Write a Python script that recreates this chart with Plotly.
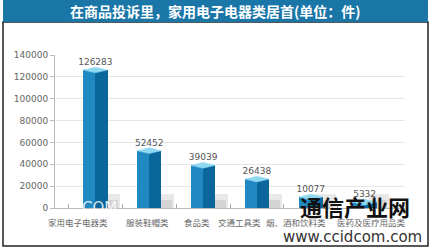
import plotly.graph_objects as go

categories = ["家用电子电器类", "服装鞋帽类", "食品类", "交通工具类", "烟、酒和饮料类", "医药及医疗用品类"]
values = [126283, 52452, 39039, 26438, 10077, 5332]
y_ticks = [0, 20000, 40000, 60000, 80000, 100000, 120000, 140000]
title_text = "在商品投诉里，家用电子电器类居首(单位：件)"

# horizontal nudges of the category labels, as in the reference
label_nudge = [-0.33, -0.04, -0.11, -0.32, -0.27, 0.13]

W, H = 430, 250
ML, MR, MT, MB = 55, 25, 55, 42
PW, PH = W - ML - MR, H - MT - MB

def px(x):
    return (x - ML) / PW

def py(y):
    return (H - MB - y) / PH

FONT = "Noto Sans CJK SC"
xs = list(range(len(categories)))
half = 0.225
cap = 2600

fig = go.Figure()

# shadows
fig.add_trace(go.Bar(x=xs, y=[13000] * len(xs), width=0.38, offset=0.08,
                     marker=dict(color="rgba(180,180,180,0.30)", line=dict(width=0)),
                     hoverinfo="skip", showlegend=False))
fig.add_trace(go.Bar(x=xs, y=[7000] * len(xs), width=0.30, offset=0.12,
                     marker=dict(color="rgba(150,150,150,0.25)", line=dict(width=0)),
                     hoverinfo="skip", showlegend=False))
# left face
fig.add_trace(go.Bar(x=xs, y=values, width=half, offset=-half,
                     marker=dict(color="#2189c2", line=dict(width=0)),
                     showlegend=False))
# right face
fig.add_trace(go.Bar(x=xs, y=values, width=half, offset=0,
                     marker=dict(color="#0b679b", line=dict(width=0)),
                     showlegend=False))
# caps
for x, v in zip(xs, values):
    fig.add_trace(go.Scatter(
        x=[x - half, x, x + half, x, x - half],
        y=[v, v - cap, v, v + cap, v],
        fill="toself", fillcolor="#8fd8f2", mode="lines",
        line=dict(color="#8fd8f2", width=0.5), hoverinfo="skip", showlegend=False))
# value labels
fig.add_trace(go.Scatter(
    x=xs, y=[v + cap for v in values], mode="text", text=[str(v) for v in values],
    textposition="top center", textfont=dict(family="DejaVu Sans", size=9, color="#555555"),
    hoverinfo="skip", showlegend=False, cliponaxis=False))

shapes = [
    dict(type="rect", xref="paper", yref="paper", x0=px(3), x1=px(428), y0=py(246), y1=py(22),
         line=dict(color="#222222", width=1.5), fillcolor="rgba(0,0,0,0)", layer="below"),
    dict(type="rect", xref="paper", yref="paper", x0=px(3), x1=px(428), y0=py(22), y1=py(0),
         line=dict(width=0), fillcolor="#1b76a8", layer="below"),
]

annotations = [
    dict(text=f"<b>{title_text}</b>", xref="paper", yref="paper", x=px(215), y=py(11),
         showarrow=False, font=dict(family=FONT, size=14, color="white"),
         xanchor="center", yanchor="middle"),
]
for x, c, n in zip(xs, categories, label_nudge):
    annotations.append(dict(text=c, xref="x", yref="paper", x=x + n, y=py(222),
                            showarrow=False, font=dict(family=FONT, size=8.5, color="#666666"),
                            xanchor="center", yanchor="middle"))
annotations += [
    dict(text="COM", xref="paper", yref="paper", x=px(99), y=py(208),
         showarrow=False, font=dict(family="DejaVu Sans", size=15, color="rgba(255,255,255,0.85)"),
         xanchor="center", yanchor="middle"),
    dict(text="<b>通信产业网</b>", xref="paper", yref="paper", x=px(355), y=py(206),
         showarrow=False, font=dict(family=FONT, size=22, color="#111111"),
         xanchor="center", yanchor="middle"),
    dict(text="www.ccidcom.com", xref="paper", yref="paper", x=px(352), y=py(237),
         showarrow=False, font=dict(family="DejaVu Sans", size=15, color="#333333"),
         xanchor="center", yanchor="middle"),
]

fig.update_layout(
    width=W, height=H, margin=dict(l=ML, r=MR, t=MT, b=MB, autoexpand=False),
    paper_bgcolor="white", plot_bgcolor="white",
    barmode="overlay", bargap=0,
    shapes=shapes, annotations=annotations,
    xaxis=dict(range=[-0.75, 5.75], tickvals=xs, showticklabels=False,
               automargin=False,
               showgrid=False, zeroline=False, showline=True, linecolor="#bbbbbb",
               ticks="",
               minor=dict(tickvals=[x + 0.5 for x in xs[:-1]] + [-0.5], ticks="inside",
                          ticklen=4, tickcolor="#aaaaaa"),
               fixedrange=True),
    yaxis=dict(range=[0, 140000], tickvals=y_ticks, ticktext=[str(t) for t in y_ticks],
               automargin=False,
               tickfont=dict(family="DejaVu Sans", size=9, color="#666666"),
               showgrid=True, gridcolor="#e6e6e6", gridwidth=1, zeroline=False,
               showline=True, linecolor="#bbbbbb", ticks="outside", ticklen=4,
               tickcolor="#bbbbbb", fixedrange=True),
)

fig.write_html("out.html")
